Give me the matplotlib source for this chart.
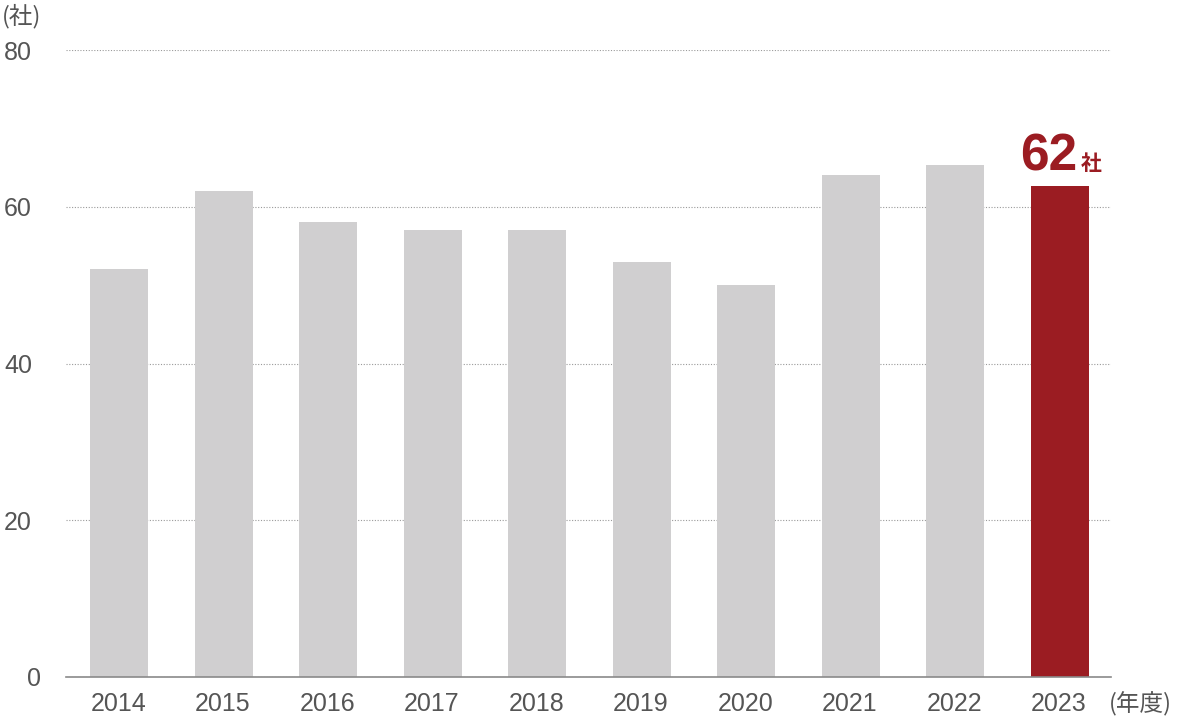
import matplotlib.pyplot as plt
import matplotlib.transforms as mtransforms
import numpy as np

plt.rcParams['font.family'] = ['Liberation Sans', 'Noto Sans CJK JP']

years = ['2014', '2015', '2016', '2017', '2018', '2019', '2020', '2021', '2022', '2023']
companies = [52, 62, 58, 57, 57, 53, 50, 64, 65.3, 62.6]
highlight_label = '62'
y_ticks = [0, 20, 40, 60, 80]

gray = '#d0cfd0'
red = '#9b1c22'
text_gray = '#555555'

fig = plt.figure(figsize=(11.77, 7.17), dpi=100)
ax = fig.add_axes([66 / 1177, 40 / 717, (1111 - 66) / 1177, (677 - 50) / 717])

x = np.arange(len(years))
colors = [gray] * (len(years) - 1) + [red]
ax.bar(x + 0.01, companies, width=0.555, color=colors, zorder=3)

ax.set_xlim(-0.5, len(years) - 0.5)
ax.set_ylim(0, 80)
ax.set_yticks(y_ticks)
ax.set_xticks(x)
ax.set_xticklabels(years)
ax.tick_params(axis='both', length=0, labelsize=18, colors=text_gray)
ax.tick_params(axis='x', pad=11)
ax.tick_params(axis='y', pad=44.5)
for lbl in ax.get_yticklabels():
    lbl.set_horizontalalignment('left')
# the zero label sits further right in the original
zero_lbl = ax.get_yticklabels()[0]
zero_lbl.set_transform(zero_lbl.get_transform() +
                       mtransforms.ScaledTranslation(23 / 100, 0, fig.dpi_scale_trans))

for sp in ['top', 'right', 'left']:
    ax.spines[sp].set_visible(False)
ax.spines['bottom'].set_color('#8a8a8a')
ax.spines['bottom'].set_linewidth(1.2)
ax.spines['bottom'].set_zorder(4)

ax.grid(axis='y', linestyle=(0, (1, 1.5)), color='#9a9a9a', linewidth=0.8, zorder=1)
ax.set_axisbelow(True)

# unit labels
fig.text(2 / 1177, 1 - 16 / 717, '(社)', fontsize=17, color=text_gray, va='center', ha='left',
         family='Noto Sans CJK JP')
fig.text(1172 / 1177, 1 - 704 / 717, '(年度)', fontsize=17, color=text_gray, va='center', ha='right',
         family='Noto Sans CJK JP')

# highlight value for the last year
ax.annotate(highlight_label, xy=(x[-1], companies[-1]), xytext=(-7, 11.5), textcoords='offset points',
            ha='center', va='baseline', fontsize=37, fontweight='bold', color=red)
ax.annotate('社', xy=(x[-1], companies[-1]), xytext=(16, 12), textcoords='offset points',
            ha='left', va='baseline', fontsize=15, fontweight='bold', color=red,
            family='Noto Sans CJK JP')

fig.savefig('out.png', dpi=100)
